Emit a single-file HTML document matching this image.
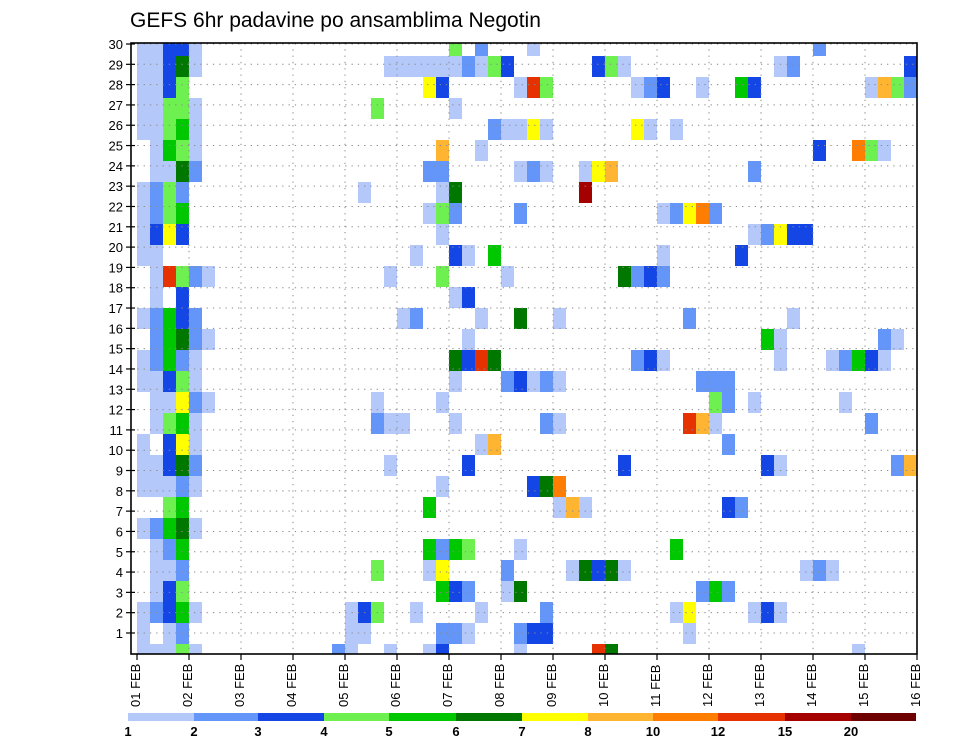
<!DOCTYPE html>
<html><head><meta charset="utf-8"><title>GEFS 6hr padavine po ansamblima Negotin</title>
<style>html,body{margin:0;padding:0;background:#fff}svg{display:block;font-family:"Liberation Sans",sans-serif}</style>
</head><body>
<svg id="chart" width="960" height="742" viewBox="0 0 960 742" xmlns="http://www.w3.org/2000/svg">
<text x="130" y="27" font-size="21" fill="#000">GEFS 6hr padavine po ansamblima Negotin</text>
<defs><clipPath id="plotclip"><rect x="131" y="43" width="786" height="611"/></clipPath></defs>
<g id="cells" clip-path="url(#plotclip)"></g>
<g id="grid"></g>
<g id="axes"></g>
<g id="cbar"></g>
</svg>
<script>
// ---- data ----
const dayLabels = ["01 FEB","02 FEB","03 FEB","04 FEB","05 FEB","06 FEB","07 FEB","08 FEB","09 FEB","10 FEB","11 FEB","12 FEB","13 FEB","14 FEB","15 FEB","16 FEB"];
const memberTicks = [1,2,3,4,5,6,7,8,9,10,11,12,13,14,15,16,17,18,19,20,21,22,23,24,25,26,27,28,29,30];
const levelBounds = [1,2,3,4,5,6,7,8,10,12,15,20];
const levelColors = ["#b4c8fa","#6496fa","#1446e6","#6ef050","#00c800","#007800","#ffff00","#ffb432","#ff7d00","#e63200","#a50000","#6e0000"];
// precipitation per ensemble member row (index 0 = bottom), entries "timestep:mm"
const precipRows = [
"0:1.5 1:1.5 2:1.5 3:4.5 4:1.5 15:2.5 16:1.5 19:1.5 22:1.5 23:3.5 29:1.5 35:13 36:6.5 55:1.5",
"0:1.5 2:1.5 3:2.5 16:1.5 17:1.5 23:2.5 24:2.5 25:1.5 29:2.5 30:3.5 31:3.5 42:1.5",
"0:1.5 1:2.5 2:3.5 3:5.5 4:1.5 16:1.5 17:3.5 18:4.5 21:1.5 26:1.5 31:2.5 41:1.5 42:7.5 47:1.5 48:3.5 49:1.5",
"1:1.5 2:3.5 3:4.5 23:5.5 24:3.5 25:2.5 28:1.5 29:6.5 43:2.5 44:5.5 45:2.5",
"1:1.5 2:1.5 3:2.5 18:4.5 22:1.5 23:7.5 28:2.5 33:1.5 34:6.5 35:3.5 36:6.5 37:1.5 51:1.5 52:2.5 53:1.5",
"1:1.5 2:2.5 3:5.5 22:5.5 23:2.5 24:5.5 25:4.5 29:1.5 41:5.5",
"0:1.5 1:2.5 2:5.5 3:6.5 4:1.5",
"2:4.5 3:5.5 22:5.5 32:1.5 33:9 34:1.5 45:3.5 46:2.5",
"0:1.5 1:1.5 2:1.5 3:2.5 4:1.5 23:1.5 30:3.5 31:6.5 32:11",
"0:1.5 1:1.5 2:3.5 3:6.5 4:2.5 19:1.5 25:3.5 37:3.5 48:3.5 49:1.5 58:2.5 59:9",
"0:1.5 2:3.5 3:7.5 4:1.5 26:1.5 27:9 45:2.5",
"1:1.5 2:4.5 3:5.5 4:1.5 18:2.5 19:1.5 20:1.5 24:1.5 31:2.5 32:1.5 42:13 43:9 44:1.5 56:2.5",
"1:1.5 2:1.5 3:7.5 4:2.5 5:1.5 18:1.5 23:1.5 44:4.5 45:2.5 47:1.5 54:1.5",
"0:1.5 1:1.5 2:3.5 3:4.5 4:1.5 24:1.5 28:2.5 29:3.5 30:1.5 31:2.5 32:1.5 43:2.5 44:2.5 45:2.5",
"0:1.5 1:2.5 2:5.5 3:2.5 4:1.5 24:6.5 25:3.5 26:13 27:6.5 38:2.5 39:3.5 40:1.5 49:1.5 53:1.5 54:2.5 55:5.5 56:3.5 57:1.5",
"1:2.5 2:5.5 3:6.5 4:2.5 5:1.5 25:1.5 48:5.5 49:1.5 57:2.5 58:1.5",
"0:1.5 1:2.5 2:5.5 3:3.5 4:2.5 20:1.5 21:2.5 26:1.5 29:6.5 32:1.5 42:2.5 50:1.5",
"1:1.5 3:3.5 24:1.5 25:3.5",
"1:1.5 2:13 3:4.5 4:2.5 5:1.5 19:1.5 23:4.5 28:1.5 37:6.5 38:2.5 39:3.5 40:2.5",
"0:1.5 1:1.5 21:1.5 24:3.5 25:1.5 27:5.5 40:1.5 46:3.5",
"0:1.5 1:3.5 2:7.5 3:3.5 23:1.5 47:1.5 48:2.5 49:7.5 50:3.5 51:3.5",
"0:1.5 1:2.5 2:4.5 3:5.5 22:1.5 23:4.5 24:2.5 29:2.5 40:1.5 41:2.5 42:7.5 43:11 44:2.5",
"0:1.5 1:2.5 2:4.5 3:2.5 17:1.5 23:1.5 24:6.5 34:17",
"1:1.5 2:1.5 3:6.5 4:2.5 22:2.5 23:2.5 29:1.5 30:2.5 31:1.5 34:1.5 35:7.5 36:9 47:2.5",
"1:1.5 2:5.5 3:4.5 4:1.5 23:9 26:1.5 52:3.5 55:11 56:4.5 57:1.5",
"0:1.5 1:1.5 2:4.5 3:5.5 4:1.5 27:2.5 28:1.5 29:1.5 30:7.5 31:1.5 38:7.5 39:1.5 41:1.5",
"0:1.5 1:1.5 2:4.5 3:4.5 4:1.5 18:4.5 24:1.5",
"0:1.5 1:1.5 2:3.5 3:4.5 22:7.5 23:3.5 29:1.5 30:13 31:4.5 38:1.5 39:2.5 40:3.5 43:1.5 46:5.5 47:3.5 56:1.5 57:9 58:4.5 59:2.5",
"0:1.5 1:1.5 2:3.5 3:6.5 4:1.5 19:1.5 20:1.5 21:1.5 22:1.5 23:1.5 24:1.5 25:2.5 26:1.5 27:4.5 28:3.5 35:3.5 36:4.5 37:1.5 49:1.5 50:2.5 59:3.5",
"0:1.5 1:1.5 2:3.5 3:3.5 4:1.5 24:4.5 26:2.5 30:1.5 52:2.5"
];
// ---- scales ----
const NS = "http://www.w3.org/2000/svg";
const PL = 131, PR = 917, PT = 43, PB = 654;
const STEPS_PER_DAY = 4;
function xStep(t) { return 137 + 13 * t; }
function xDay(d) { return xStep(d * STEPS_PER_DAY); }
function yTick(r) { return 653.3 - 20.31 * r; }
function yBandTop(j) { return 644 - 21 * j; }
function colorFor(v) {
  let idx = -1;
  for (let i = 0; i < levelBounds.length; i++) if (v >= levelBounds[i]) idx = i;
  return idx < 0 ? null : levelColors[idx];
}
function mk(tag, attrs, parent) {
  const e = document.createElementNS(NS, tag);
  for (const k in attrs) e.setAttribute(k, attrs[k]);
  parent.appendChild(e);
  return e;
}
// ---- cells ----
const gCells = document.getElementById("cells");
precipRows.forEach((row, j) => {
  row.trim().split(/\s+/).forEach(p => {
    const [t, v] = p.split(":").map(Number);
    const c = colorFor(v);
    if (!c) return;
    const r = mk("rect", {x: xStep(t), y: yBandTop(j), width: 13, height: 21, fill: c}, gCells);
    
    
  });
});
// ---- grid ----
const gGrid = document.getElementById("grid");
for (let r = 1; r <= memberTicks.length; r++) {
  const l = mk("line", {x1: PL, x2: PR, y1: yTick(r), y2: yTick(r), stroke: "#8a8a8a", "stroke-width": 1, "stroke-dasharray": "1.3,5"}, gGrid);
  
  
}
for (let d = 1; d < dayLabels.length - 1; d++) {
  const l = mk("line", {x1: xDay(d), x2: xDay(d), y1: PT, y2: PB, stroke: "#8a8a8a", "stroke-width": 1, "stroke-dasharray": "1.3,5"}, gGrid);
  
  
}
// ---- axes ----
const gAx = document.getElementById("axes");
const frame = mk("rect", {x: PL, y: PT, width: PR - PL, height: PB - PT, fill: "none", stroke: "#000", "stroke-width": 1.6}, gAx);


memberTicks.forEach(r => {
  const tk = mk("line", {x1: 126, x2: 135, y1: yTick(r), y2: yTick(r), stroke: "#000", "stroke-width": 1.2}, gAx);
  
  
  const tx = mk("text", {x: 123, y: yTick(r) + 5, "font-size": 13, "text-anchor": "end", fill: "#000"}, gAx);
  tx.textContent = String(r);
  
  
});
dayLabels.forEach((lab, d) => {
  const x = xDay(d);
  const tk = mk("line", {x1: x, x2: x, y1: PB, y2: PB + 6, stroke: "#000", "stroke-width": 1.2}, gAx);
  
  
  const tx = mk("text", {x: 0, y: 0, "font-size": 13, fill: "#000", transform: "translate(" + (x + 3) + ",707) rotate(-90)"}, gAx);
  tx.textContent = lab;
  
  
});
// ---- colorbar ----
const gCb = document.getElementById("cbar");
const cbX = [128, 194, 258, 324, 389, 456, 522, 588, 653, 718, 785, 851, 916];
levelColors.forEach((c, i) => {
  const r = mk("rect", {x: cbX[i], y: 713, width: cbX[i + 1] - cbX[i], height: 8, fill: c}, gCb);
  
  
  const t = mk("text", {x: cbX[i], y: 736, "font-size": 13, "font-weight": "bold", "text-anchor": "middle", fill: "#000"}, gCb);
  t.textContent = String(levelBounds[i]);
  
  
});
</script>
</body></html>
